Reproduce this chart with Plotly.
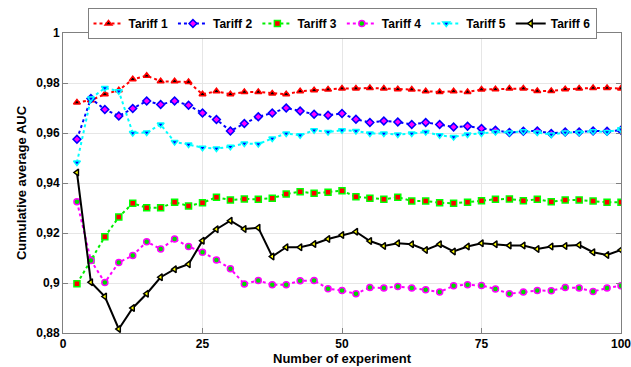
import plotly.graph_objects as go

x = [2.5 * i for i in range(1, 41)]

tariff1 = [0.9722, 0.9731, 0.9755, 0.9771, 0.9815, 0.9829, 0.9807, 0.9807, 0.9804, 0.9755,
           0.9767, 0.9755, 0.9764, 0.9764, 0.9758, 0.9755, 0.9767, 0.9771, 0.9774, 0.9778,
           0.9778, 0.9780, 0.9778, 0.9775, 0.9774, 0.9767, 0.9764, 0.9767, 0.9764, 0.9774,
           0.9775, 0.9778, 0.9778, 0.9768, 0.9768, 0.9775, 0.9778, 0.9780, 0.9780, 0.9778]
tariff2 = [0.9575, 0.9738, 0.9694, 0.9668, 0.9698, 0.9728, 0.9714, 0.9728, 0.9711, 0.9680,
           0.9654, 0.9608, 0.9638, 0.9665, 0.9680, 0.9700, 0.9688, 0.9675, 0.9671, 0.9678,
           0.9655, 0.9642, 0.9648, 0.9644, 0.9634, 0.9642, 0.9634, 0.9624, 0.9627, 0.9618,
           0.9611, 0.9602, 0.9607, 0.9608, 0.9598, 0.9604, 0.9604, 0.9608, 0.9607, 0.9611]
tariff3 = [0.8997, 0.9092, 0.9185, 0.9264, 0.9319, 0.9301, 0.9301, 0.9323, 0.9308, 0.9321,
           0.9343, 0.9332, 0.9336, 0.9335, 0.9339, 0.9356, 0.9365, 0.9359, 0.9363, 0.9369,
           0.9345, 0.9339, 0.9335, 0.9343, 0.9328, 0.9328, 0.9321, 0.9319, 0.9323, 0.9329,
           0.9335, 0.9336, 0.9329, 0.9335, 0.9325, 0.9332, 0.9332, 0.9328, 0.9323, 0.9323]
tariff4 = [0.9325, 0.9090, 0.9002, 0.9082, 0.9110, 0.9165, 0.9136, 0.9176, 0.9146, 0.9123,
           0.9092, 0.9057, 0.8996, 0.9010, 0.8993, 0.8993, 0.9009, 0.9010, 0.8977, 0.8970,
           0.8957, 0.8982, 0.8980, 0.8986, 0.8980, 0.8973, 0.8964, 0.8989, 0.8993, 0.8990,
           0.8976, 0.8957, 0.8964, 0.8970, 0.8969, 0.8982, 0.8980, 0.8966, 0.8980, 0.8989]
tariff5 = [0.9482, 0.9738, 0.9780, 0.9767, 0.9600, 0.9602, 0.9634, 0.9564, 0.9554, 0.9541,
           0.9538, 0.9545, 0.9558, 0.9556, 0.9578, 0.9598, 0.9591, 0.9611, 0.9604, 0.9611,
           0.9608, 0.9598, 0.9598, 0.9594, 0.9598, 0.9604, 0.9591, 0.9584, 0.9594, 0.9598,
           0.9604, 0.9602, 0.9607, 0.9602, 0.9594, 0.9602, 0.9602, 0.9607, 0.9604, 0.9615]
tariff6 = [0.9442, 0.9003, 0.8946, 0.8816, 0.8900, 0.8957, 0.9023, 0.9055, 0.9075, 0.9169,
           0.9215, 0.9249, 0.9216, 0.9221, 0.9106, 0.9143, 0.9143, 0.9156, 0.9176, 0.9192,
           0.9205, 0.9168, 0.9148, 0.9159, 0.9155, 0.9132, 0.9155, 0.9126, 0.9146, 0.9159,
           0.9155, 0.9150, 0.9150, 0.9136, 0.9146, 0.9148, 0.9152, 0.9123, 0.9112, 0.9132]

series = [
    ("Tariff 1", tariff1, "#ff0000", "dot", "triangle-up", "#000000", "#ff0000"),
    ("Tariff 2", tariff2, "#0000ff", "dot", "diamond", "#ff00ff", "#0000ff"),
    ("Tariff 3", tariff3, "#00ee00", "dot", "square", "#ff0000", "#00ff00"),
    ("Tariff 4", tariff4, "#ff00ff", "dot", "circle", "#00dd00", "#ff00ff"),
    ("Tariff 5", tariff5, "#00ffff", "dot", "triangle-down", "#0000ff", "#00ffff"),
    ("Tariff 6", tariff6, "#000000", "solid", "triangle-left", "#ffff00", "#000000"),
]

fig = go.Figure()
for name, ys, color, dash, sym, face, edge in series:
    fig.add_trace(go.Scatter(
        x=x, y=ys, name=name, mode="lines+markers",
        line=dict(color=color, width=2, dash=dash),
        marker=dict(symbol=sym, size=6, color=face, line=dict(color=edge, width=1.5)),
    ))

font_family = "Liberation Sans, Arial, sans-serif"
fig.update_layout(
    width=631, height=367,
    margin=dict(l=63, r=10, t=33, b=34, autoexpand=False),
    paper_bgcolor="white", plot_bgcolor="white",
    separators=",.",
    font=dict(family=font_family, size=12, color="black"),
    showlegend=True,
    legend=dict(
        orientation="h", xref="paper", yref="container",
        x=0.5, y=1 - 8 / 367, xanchor="center", yanchor="top",
        bgcolor="white", bordercolor="#808080", borderwidth=1,
        font=dict(family=font_family, size=12, color="black", weight="bold"),
        itemwidth=30, tracegroupgap=0,
    ),
    xaxis=dict(
        range=[0, 100], tickvals=[0, 25, 50, 75, 100],
        showgrid=True, gridcolor="#e6e6e6", gridwidth=1,
        showline=True, linecolor="#808080", linewidth=1, mirror="ticks",
        ticks="inside", ticklen=5, tickcolor="#808080",
        ticklabeloverflow="allow",
        tickfont=dict(family=font_family, size=12, weight="bold"),
        title=dict(text="Number of experiment", standoff=0,
                   font=dict(family=font_family, size=13, weight="bold")),
        zeroline=False,
    ),
    yaxis=dict(
        range=[0.88, 1.0], tickvals=[0.88, 0.9, 0.92, 0.94, 0.96, 0.98, 1.0],
        showgrid=True, gridcolor="#e6e6e6", gridwidth=1,
        showline=True, linecolor="#808080", linewidth=1, mirror="ticks",
        ticks="inside", ticklen=5, tickcolor="#808080",
        tickfont=dict(family=font_family, size=12, weight="bold"),
        title=dict(text="Cumulative average AUC", standoff=6,
                   font=dict(family=font_family, size=13, weight="bold")),
        zeroline=False,
    ),
)

fig.write_html("out.html", config={"displayModeBar": False},
               post_script="document.body.style.margin='0px';")
